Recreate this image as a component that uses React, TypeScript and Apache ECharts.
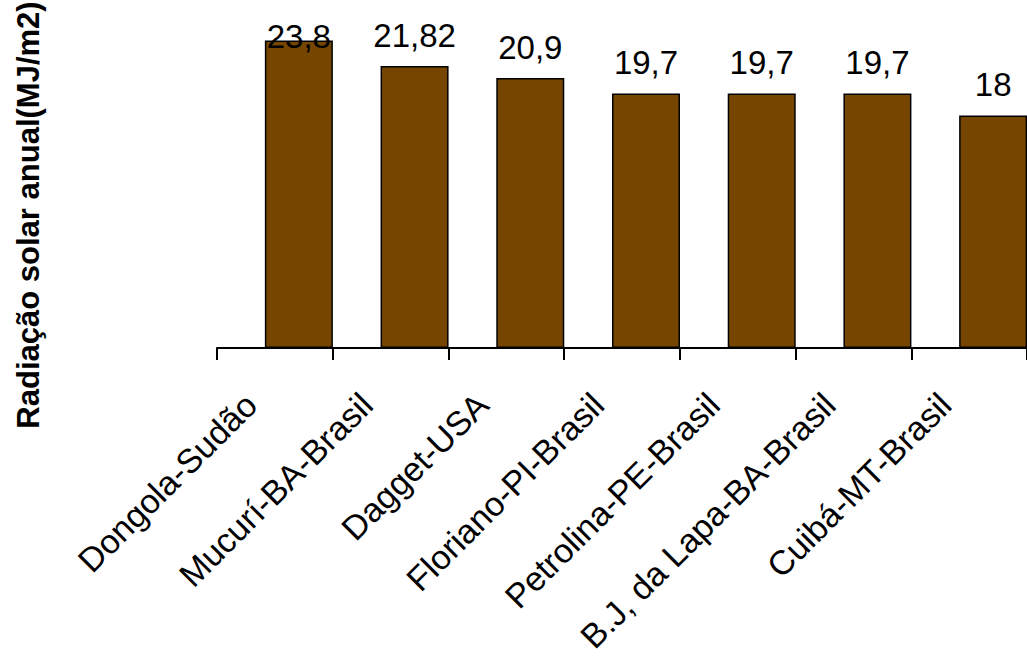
import React, { useEffect, useRef } from "react";
import * as echarts from "echarts";

// Annual solar radiation by location (MJ/m2)
const locations = [
  "Dongola-Sudão",
  "Mucurí-BA-Brasil",
  "Dagget-USA",
  "Floriano-PI-Brasil",
  "Petrolina-PE-Brasil",
  "B.J, da Lapa-BA-Brasil",
  "Cuibá-MT-Brasil",
];
const radiation = [23.8, 21.82, 20.9, 19.7, 19.7, 19.7, 18];

const yTitle = "Radiação solar anual(MJ/m2)";
const FONT = "'Liberation Sans', Arial, sans-serif";

const fmt = (v: number) => String(v).replace(".", ",");

export default function App() {
  const ref = useRef<HTMLDivElement>(null);

  useEffect(() => {
    if (!ref.current) return;
    const chart = echarts.init(ref.current, undefined, { renderer: "svg" });

    const data = radiation.map((v, i) =>
      // the tallest bar's label sits lower, held inside the plot area
      i === 0 ? { value: v, label: { distance: -12 } } : v
    );

    chart.setOption({
      animation: false,
      backgroundColor: "#ffffff",
      grid: { left: 217, right: -2, top: 25, bottom: 309, containLabel: false },
      xAxis: {
        type: "category",
        data: locations,
        boundaryGap: true,
        axisLine: { show: true, lineStyle: { color: "#000", width: 2 } },
        axisTick: { show: true, inside: false, length: 12, lineStyle: { color: "#000", width: 2 } },
        axisLabel: {
          interval: 0,
          rotate: 45,
          margin: 27,
          padding: [0, 34, 0, 0],
          color: "#000",
          fontSize: 34,
          fontFamily: FONT,
        },
        splitLine: { show: false },
      },
      yAxis: {
        type: "value",
        min: 0,
        max: 25,
        show: false,
        splitLine: { show: false },
      },
      series: [
        {
          // empty leading slot: pushes each bar to the right side of its category
          name: "spacer",
          type: "bar",
          barWidth: 48,
          barGap: "0%",
          data: [],
        },
        {
          name: "Radiação",
          type: "bar",
          barWidth: 68,
          barGap: "0%",
          data,
          itemStyle: { color: "#764600", borderColor: "#000", borderWidth: 1.5 },
          label: {
            show: true,
            position: "top",
            distance: 14,
            color: "#000",
            fontSize: 33,
            fontFamily: FONT,
            formatter: (p: any) => fmt(p.value),
          },
        },
      ],
      graphic: [
        {
          type: "text",
          x: 28,
          y: 215,
          rotation: Math.PI / 2,
          style: {
            text: yTitle,
            fill: "#000",
            font: `bold 31px ${FONT}`,
            textAlign: "center",
            textVerticalAlign: "middle",
          },
        },
      ],
    });

    return () => chart.dispose();
  }, []);

  return (
    <div
      ref={ref}
      style={{ position: "fixed", left: 0, top: 0, width: 1027, height: 657, background: "#fff" }}
    />
  );
}
